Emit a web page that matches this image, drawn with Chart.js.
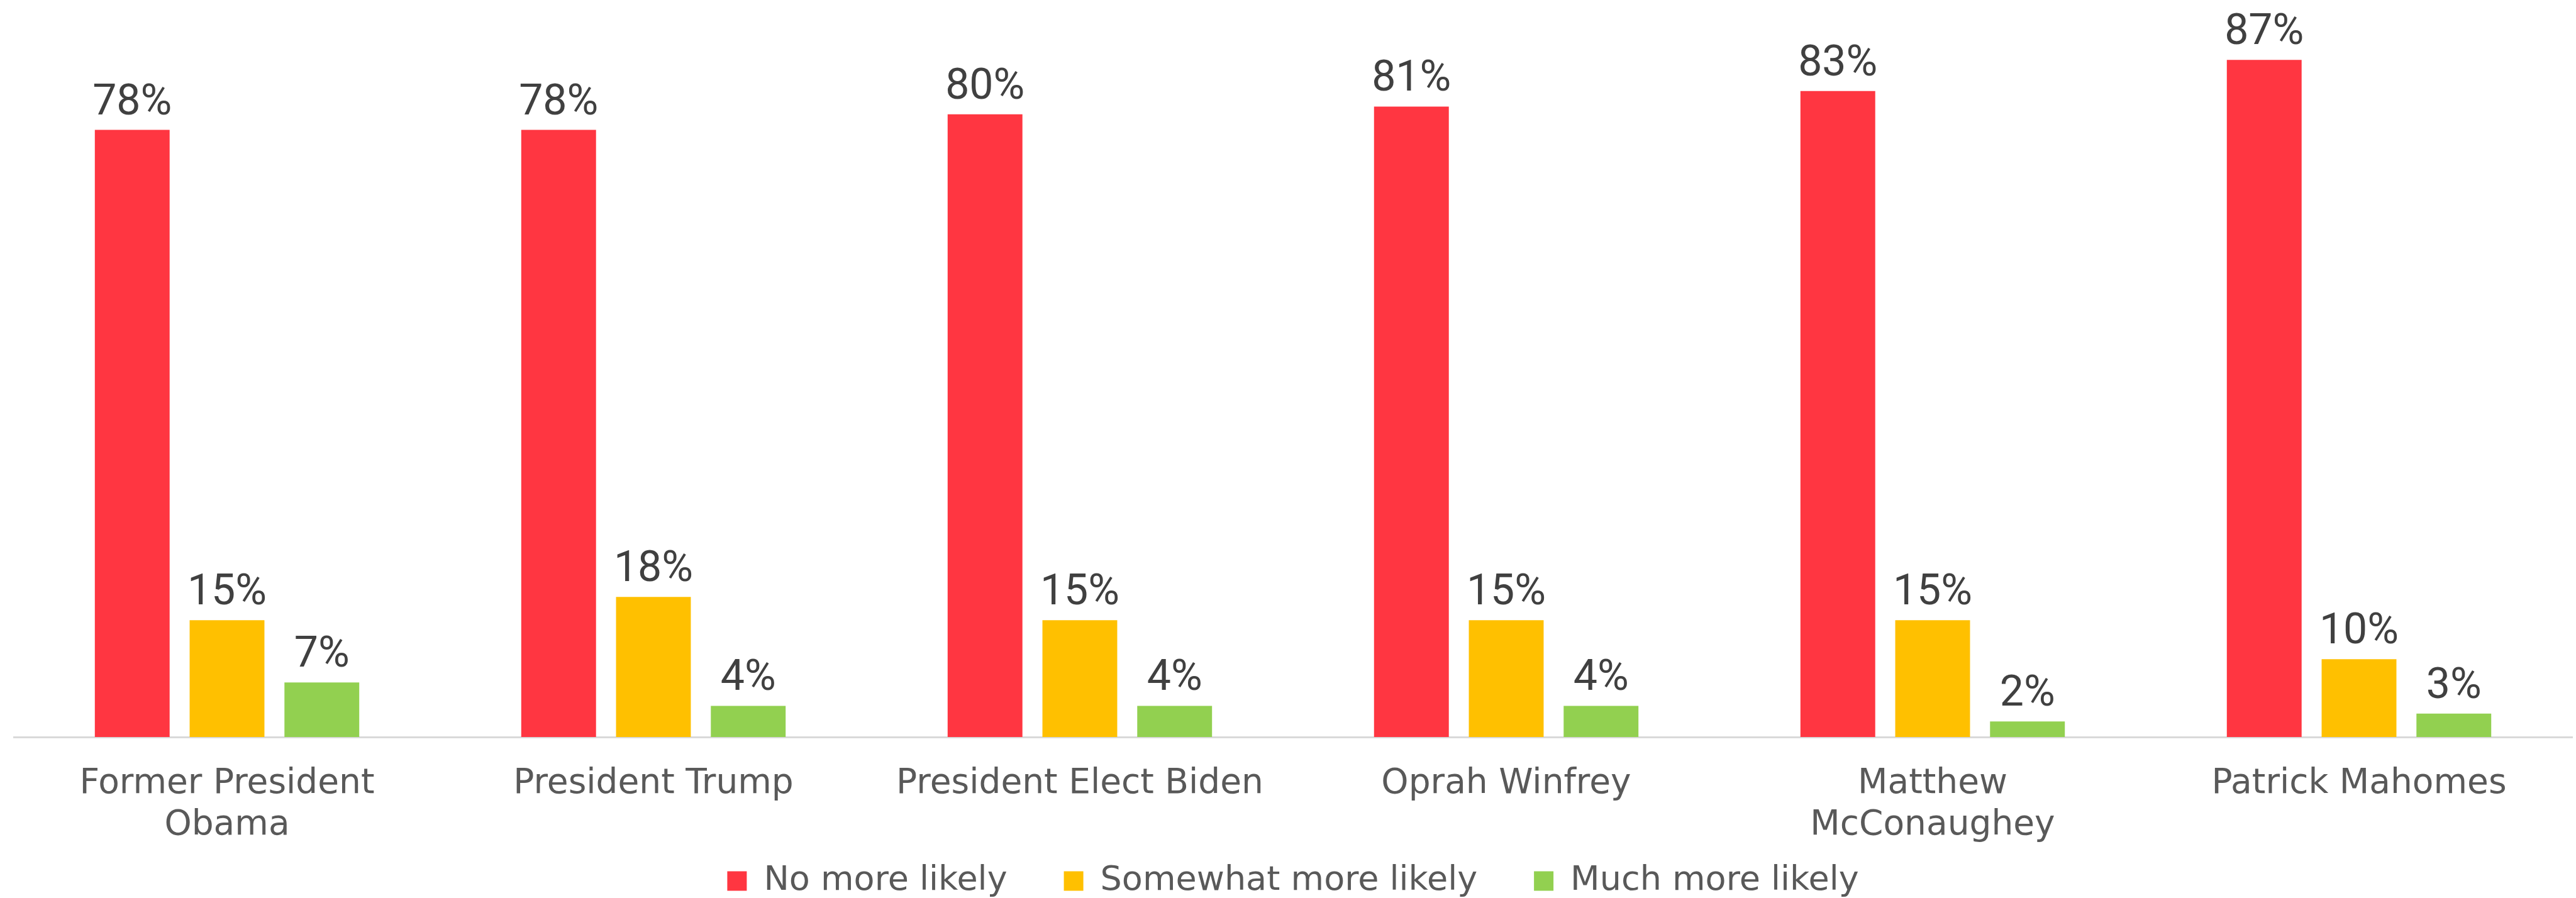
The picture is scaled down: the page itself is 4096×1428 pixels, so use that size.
<!DOCTYPE html>
<html>
<head>
<meta charset="utf-8">
<script src="https://cdn.jsdelivr.net/npm/chart.js@4.4.1/dist/chart.umd.min.js"></script>
<style>
  html, body { margin: 0; padding: 0; background: #fff; }
  #wrap { width: 4096px; height: 1428px; }
</style>
</head>
<body>
<div id="wrap"><canvas id="chart" width="4096" height="1428"></canvas></div>
<script>
const categories = [
  ['Former President', 'Obama'],
  'President Trump',
  'President Elect Biden',
  'Oprah Winfrey',
  ['Matthew', 'McConaughey'],
  'Patrick Mahomes',
];
const seriesNames = ['No more likely', 'Somewhat more likely', 'Much more likely'];
const noMoreLikely = [78, 78, 80, 81, 83, 87];
const somewhatMoreLikely = [15, 18, 15, 15, 15, 10];
const muchMoreLikely = [7, 4, 4, 4, 2, 3];

const COLORS = ['#FF3641', '#FFC000', '#92D050'];
const LABEL_FONT = '"DejaVu Sans", "Noto Sans", sans-serif';

// value labels above each bar
const valueLabels = {
  id: 'valueLabels',
  afterDatasetsDraw(chart) {
    const ctx = chart.ctx;
    ctx.save();
    ctx.font = '68px Roboto, "Noto Sans", sans-serif';
    ctx.fillStyle = '#404040';
    ctx.textAlign = 'center';
    ctx.textBaseline = 'alphabetic';
    chart.data.datasets.forEach((ds, di) => {
      chart.getDatasetMeta(di).data.forEach((bar, i) => {
        ctx.fillText(ds.data[i] + '%', bar.x, bar.y - 25);
      });
    });
    ctx.restore();
  },
};

// x labels are clipped to the scale box; let the second line run into the legend strip
const unclipLabels = {
  id: 'unclipLabels',
  afterLayout(chart) {
    chart.scales.x.bottom = chart.height;
  },
};

const series = [noMoreLikely, somewhatMoreLikely, muchMoreLikely];

new Chart(document.getElementById('chart'), {
  type: 'bar',
  data: {
    labels: categories,
    datasets: series.map((data, i) => ({
      label: seriesNames[i],
      data,
      backgroundColor: COLORS[i],
      borderWidth: 0,
      categoryPercentage: 0.667,
      barPercentage: 0.789,
    })),
  },
  options: {
    responsive: false,
    animation: false,
    devicePixelRatio: 1,
    layout: { padding: { top: 58, left: 22, right: 6, bottom: -10 } },
    plugins: {
      legend: {
        position: 'bottom',
        labels: {
          boxWidth: 31,
          boxHeight: 31,
          padding: 90,
          color: '#595959',
          font: { family: LABEL_FONT, size: 54 },
        },
      },
      tooltip: { enabled: false },
    },
    scales: {
      x: {
        grid: { display: false, drawTicks: false },
        border: { display: true, color: '#D9D9D9', width: 3 },
        ticks: {
          color: '#595959',
          font: { family: LABEL_FONT, size: 55, lineHeight: 1.2 },
          padding: 42,
          maxRotation: 0,
          autoSkip: false,
        },
        afterFit: s => { s.height = 112; },
      },
      y: {
        display: false,
        min: 0,
        max: 90,
      },
    },
  },
  plugins: [valueLabels, unclipLabels],
});
</script>
</body>
</html>
